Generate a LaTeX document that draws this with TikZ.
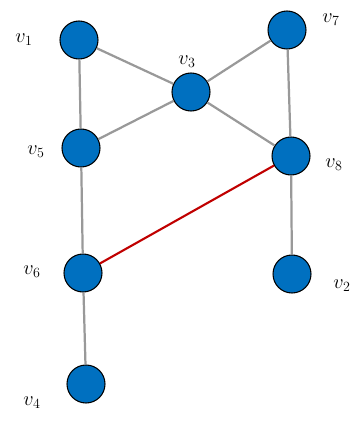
\documentclass[tikz,border=0pt]{standalone}
\usepackage{amsmath}
\usepackage{tikz}
\usepackage{xcolor}

\definecolor{vblue}{RGB}{0,112,192}
\definecolor{vred}{RGB}{192,0,0}

\begin{document}
\begin{tikzpicture}[x=0.3mm,y=-0.3mm,
                vertex/.style={circle,draw=black,line width=0.9pt,fill=vblue,minimum size=11.4mm,inner sep=0pt},
                edge/.style={draw=gray!80,line width=1.9pt},
                lbl/.style={font=\LARGE}]
                \useasboundingbox (0,0) rectangle (362,421);

                \node[vertex] (v1) at (79,40) {};
                \node[vertex] (v7) at (287,30) {};
                \node[vertex] (v3) at (191,92) {};
                \node[vertex] (v5) at (81,148) {};
                \node[vertex] (v8) at (291,156) {};
                \node[vertex] (v6) at (83,273) {};
                \node[vertex] (v2) at (292,274) {};
                \node[vertex] (v4) at (86,384) {};

                \node[lbl] (l1) at (24,40) {$v_1$};
                \node[lbl] (l7) at (331,20) {$v_7$};
                \node[lbl] (l3) at (187,62) {$v_3$};
                \node[lbl] (l5) at (36,152) {$v_5$};
                \node[lbl] (l8) at (334,165) {$v_8$};
                \node[lbl] (l6) at (32,272) {$v_6$};
                \node[lbl] (l2) at (342,286) {$v_2$};
                \node[lbl] (l4) at (32,403) {$v_4$};

                \draw[edge] (v1) -- (v5);
                \draw[edge] (v1) -- (v3);
                \draw[edge] (v3) -- (v7);
                \draw[edge] (v3) -- (v5);
                \draw[edge] (v3) -- (v8);
                \draw[edge] (v7) -- (v8);
                \draw[edge] (v5) -- (v6);
                \draw[edge] (v8) -- (v2);
                \draw[edge] (v6) -- (v4);
                \draw[vred,line width=1.8pt] (v6) -- (v8);
            \end{tikzpicture}
\end{document}
